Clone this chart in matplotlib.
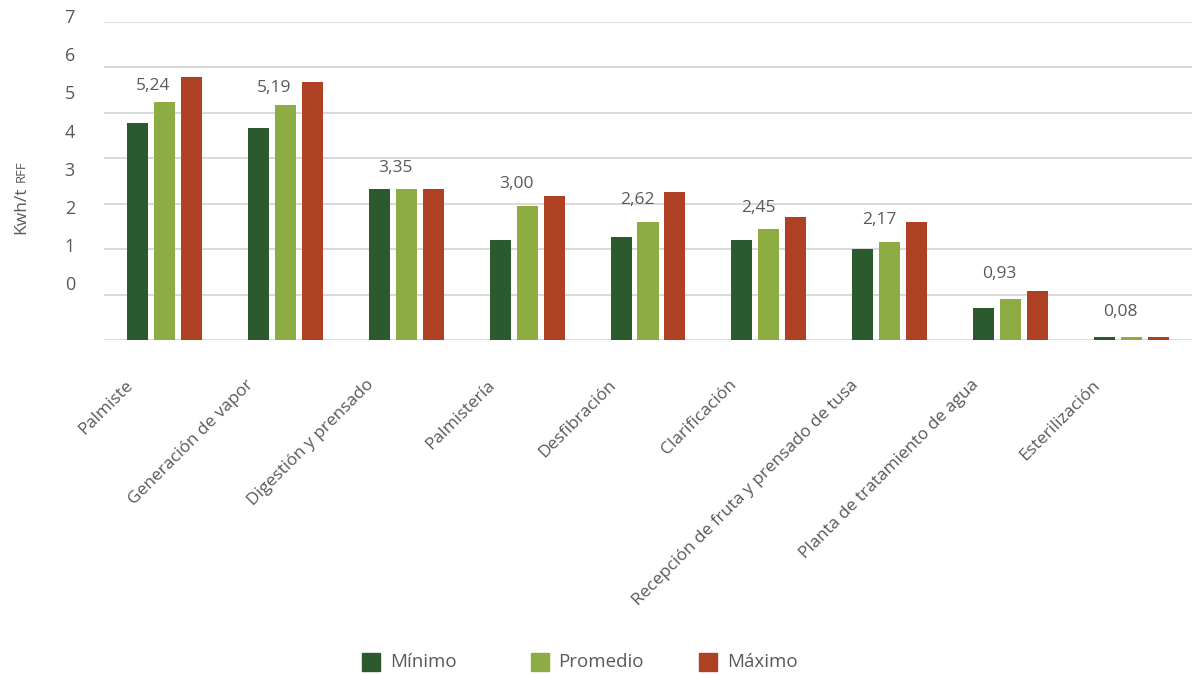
import matplotlib
matplotlib.use('Agg')
import matplotlib.pyplot as plt
import matplotlib.transforms as mtransforms
from matplotlib.patches import Rectangle
import numpy as np

categories = ["Palmiste", "Generación de vapor", "Digestión y prensado", "Palmistería",
              "Desfibración", "Clarificación", "Recepción de fruta y prensado de tusa",
              "Planta de tratamiento de agua", "Esterilización"]
minimo = [4.78, 4.67, 3.33, 2.20, 2.27, 2.20, 2.00, 0.70, 0.07]
promedio = [5.24, 5.18, 3.33, 2.95, 2.60, 2.44, 2.16, 0.90, 0.07]
maximo = [5.79, 5.68, 3.33, 3.17, 3.26, 2.71, 2.60, 1.08, 0.07]
promedio_labels = [5.24, 5.19, 3.35, 3.00, 2.62, 2.45, 2.17, 0.93, 0.08]
series_names = ["Mínimo", "Promedio", "Máximo"]
y_tick_labels = ["0", "1", "2", "3", "4", "5", "6", "7"]
colors = ['#2B5A2E', '#8DAD44', '#AE4124']
text_color = '#595959'

plt.rcParams['font.family'] = ['Open Sans', 'DejaVu Sans']

W, H = 1193, 675
fig = plt.figure(figsize=(W / 100, H / 100), dpi=100)
ax = fig.add_axes([104 / W, (H - 340) / H, (1192 - 104) / W, 318 / H])

x = np.arange(len(categories))
bw, step = 0.174, 0.223
for i, (vals, c) in enumerate(zip([minimo, promedio, maximo], colors)):
    ax.bar(x + (i - 1) * step, vals, bw, color=c, zorder=3)

ax.set_xlim(-0.5, len(categories) - 0.5)
ax.set_ylim(0, 7)
ax.set_yticks(range(8))
ax.yaxis.grid(True, color='#D0D0D0', lw=1.1, zorder=0)
ax.set_axisbelow(True)
ax.tick_params(left=False, bottom=False, labelleft=False, labelbottom=False)
for s in ax.spines.values():
    s.set_visible(False)

# y tick labels (as placed in the original, offset from the gridlines)
ytr = mtransforms.blended_transform_factory(ax.transAxes, ax.transData) + \
    mtransforms.ScaledTranslation(-29 / 100, 0, fig.dpi_scale_trans)
for k, lab in enumerate(y_tick_labels):
    ax.text(0, 1.211 + 0.8387 * k, lab, transform=ytr, ha='right', va='center',
            fontsize=13, color=text_color)

# category labels
xtr = ax.transData + mtransforms.ScaledTranslation(-40 / 100, -37 / 100, fig.dpi_scale_trans)
for xi, lab in zip(x, categories):
    ax.text(xi, 0, lab, transform=xtr, ha='right', va='top', rotation=45,
            rotation_mode='anchor', fontsize=12.5, color=text_color)

# data labels for Promedio
for xi, v in zip(x, promedio_labels):
    ax.text(xi - 0.09, 0.55 + 0.963 * v, f"{v:.2f}".replace('.', ','),
            ha='center', va='center', fontsize=12.5, color=text_color)

# y axis label: "Kwh/t" + small "RFF"
fig.canvas.draw()
r = fig.canvas.get_renderer()
t1 = fig.text(25 / W, 1 - 234 / H, "Kwh/t", rotation=90, rotation_mode='anchor',
              ha='left', va='baseline', fontsize=12.5, color=text_color)
ext = t1.get_window_extent(r)
t2 = fig.text(25 / W, (ext.y1 + 4) / H, "RFF", rotation=90, rotation_mode='anchor',
              ha='left', va='baseline', fontsize=9.5, color=text_color)

# legend
for i, (name, c) in enumerate(zip(series_names, colors)):
    x0 = 362 + 168.5 * i
    fig.patches.append(Rectangle((x0 / W, 1 - 671 / H), 18 / W, 18 / H,
                                 transform=fig.transFigure, color=c))
    fig.text((x0 + 28) / W, 1 - 662 / H, name, ha='left', va='center',
             fontsize=13.5, color=text_color)

fig.savefig('out.png', dpi=100, facecolor='white')
